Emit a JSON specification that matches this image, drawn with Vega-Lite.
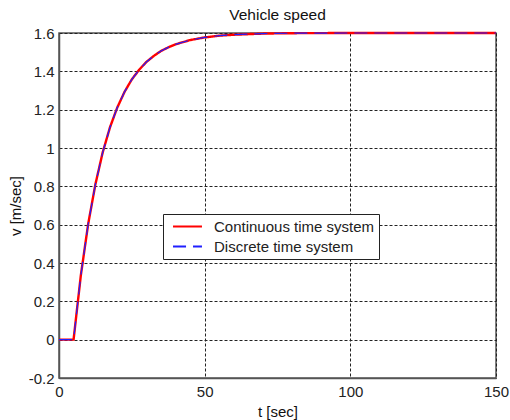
{
  "$schema": "https://vega.github.io/schema/vega-lite/v6.json",
  "width": 437,
  "height": 345,
  "autosize": {"type": "none"},
  "padding": {"left": 59, "top": 33, "right": 14, "bottom": 42},
  "background": "white",
  "title": {"text": "Vehicle speed", "font": "Liberation Sans", "fontSize": 15.5, "fontWeight": "normal", "color": "#111111", "offset": 3},
  "config": {
    "view": {"stroke": "#555555", "strokeWidth": 1.5},
    "axis": {
      "labelFont": "Liberation Sans", "labelFontSize": 15, "labelColor": "#222222",
      "titleFont": "Liberation Sans", "titleFontSize": 15, "titleFontWeight": "normal", "titleColor": "#111111",
      "grid": true, "gridColor": "#222222", "gridDash": [3, 2], "gridWidth": 1, "gridOpacity": 1,
      "domainColor": "#555555", "domainWidth": 1.5, "ticks": false, "labelFlush": false
    },
    "legend": {"labelFont": "Liberation Sans", "labelFontSize": 15, "labelColor": "#222222", "labelLimit": 400}
  },
  "data": {"values": [
    {"t": 0, "v": 0, "s": "Continuous time system"},
    {"t": 5, "v": 0, "s": "Continuous time system"},
    {"t": 7.5, "v": 0.336, "s": "Continuous time system"},
    {"t": 10, "v": 0.602, "s": "Continuous time system"},
    {"t": 12.5, "v": 0.811, "s": "Continuous time system"},
    {"t": 15, "v": 0.977, "s": "Continuous time system"},
    {"t": 17.5, "v": 1.108, "s": "Continuous time system"},
    {"t": 20, "v": 1.211, "s": "Continuous time system"},
    {"t": 22.5, "v": 1.293, "s": "Continuous time system"},
    {"t": 25, "v": 1.358, "s": "Continuous time system"},
    {"t": 27.5, "v": 1.408, "s": "Continuous time system"},
    {"t": 30, "v": 1.449, "s": "Continuous time system"},
    {"t": 32.5, "v": 1.480, "s": "Continuous time system"},
    {"t": 35, "v": 1.506, "s": "Continuous time system"},
    {"t": 37.5, "v": 1.525, "s": "Continuous time system"},
    {"t": 40, "v": 1.541, "s": "Continuous time system"},
    {"t": 45, "v": 1.563, "s": "Continuous time system"},
    {"t": 50, "v": 1.577, "s": "Continuous time system"},
    {"t": 55, "v": 1.586, "s": "Continuous time system"},
    {"t": 60, "v": 1.591, "s": "Continuous time system"},
    {"t": 65, "v": 1.594, "s": "Continuous time system"},
    {"t": 70, "v": 1.597, "s": "Continuous time system"},
    {"t": 80, "v": 1.599, "s": "Continuous time system"},
    {"t": 100, "v": 1.6, "s": "Continuous time system"},
    {"t": 150, "v": 1.6, "s": "Continuous time system"},
    {"t": 0, "v": 0, "s": "Discrete time system"},
    {"t": 5, "v": 0, "s": "Discrete time system"},
    {"t": 7.5, "v": 0.336, "s": "Discrete time system"},
    {"t": 10, "v": 0.602, "s": "Discrete time system"},
    {"t": 12.5, "v": 0.811, "s": "Discrete time system"},
    {"t": 15, "v": 0.977, "s": "Discrete time system"},
    {"t": 17.5, "v": 1.108, "s": "Discrete time system"},
    {"t": 20, "v": 1.211, "s": "Discrete time system"},
    {"t": 22.5, "v": 1.293, "s": "Discrete time system"},
    {"t": 25, "v": 1.358, "s": "Discrete time system"},
    {"t": 27.5, "v": 1.408, "s": "Discrete time system"},
    {"t": 30, "v": 1.449, "s": "Discrete time system"},
    {"t": 32.5, "v": 1.480, "s": "Discrete time system"},
    {"t": 35, "v": 1.506, "s": "Discrete time system"},
    {"t": 37.5, "v": 1.525, "s": "Discrete time system"},
    {"t": 40, "v": 1.541, "s": "Discrete time system"},
    {"t": 45, "v": 1.563, "s": "Discrete time system"},
    {"t": 50, "v": 1.577, "s": "Discrete time system"},
    {"t": 55, "v": 1.586, "s": "Discrete time system"},
    {"t": 60, "v": 1.591, "s": "Discrete time system"},
    {"t": 65, "v": 1.594, "s": "Discrete time system"},
    {"t": 70, "v": 1.597, "s": "Discrete time system"},
    {"t": 80, "v": 1.599, "s": "Discrete time system"},
    {"t": 100, "v": 1.6, "s": "Discrete time system"},
    {"t": 150, "v": 1.6, "s": "Discrete time system"}
  ]},
  "encoding": {
    "x": {"field": "t", "type": "quantitative", "scale": {"domain": [0, 150], "nice": false, "zero": false},
          "axis": {"title": "t [sec]", "values": [0, 50, 100, 150], "labelPadding": 6, "titlePadding": 5}},
    "y": {"field": "v", "type": "quantitative", "scale": {"domain": [-0.2, 1.6], "nice": false, "zero": false},
          "axis": {"title": "v [m/sec]", "values": [-0.2, 0, 0.2, 0.4, 0.6, 0.8, 1, 1.2, 1.4, 1.6], "labelPadding": 5, "titlePadding": 5, "labelExpr": "datum.value"}},
    "color": {"field": "s", "type": "nominal",
              "scale": {"domain": ["Continuous time system", "Discrete time system"], "range": ["#ff0000", "#2020ff"]},
              "legend": {"title": null, "orient": "none", "legendX": 104, "legendY": 181, "fillColor": "white", "strokeColor": "#222222", "padding": 4, "symbolType": "M-1.93,0H1.93", "symbolSize": 225, "symbolStrokeWidth": 2, "symbolOffset": 12, "rowPadding": 3, "labelOffset": 18, "offset": 0}},
    "strokeDash": {"field": "s", "type": "nominal",
                   "scale": {"domain": ["Continuous time system", "Discrete time system"], "range": [[1, 0], [13, 7]]}}
  },
  "layer": [
    {"transform": [{"filter": "datum.s == 'Continuous time system'"}],
     "mark": {"type": "line", "strokeWidth": 2.4, "clip": false}},
    {"transform": [{"filter": "datum.s == 'Discrete time system'"}],
     "mark": {"type": "line", "strokeWidth": 1.2, "clip": false}}
  ]
}
